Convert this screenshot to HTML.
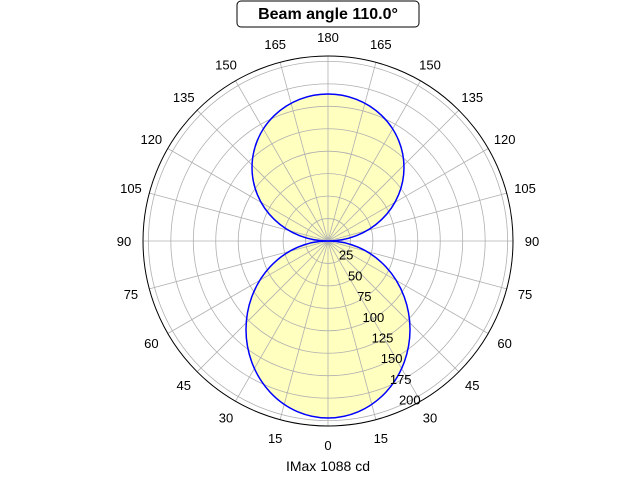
<!DOCTYPE html>
<html><head><meta charset="utf-8"><style>
html,body{margin:0;padding:0;background:#fff;}
svg{display:block;font-family:"Liberation Sans","DejaVu Sans",sans-serif;}
</style></head><body>
<svg id="s" width="640" height="480" viewBox="0 0 640 480" xmlns="http://www.w3.org/2000/svg">
<path d="M328,241 A82,88.5 0 1 0 328,418 A82,88.5 0 1 0 328,241 Z" fill="#ffffc0" stroke="none"/>
<path d="M328,241 A76,73.5 0 1 1 328,94 A76,73.5 0 1 1 328,241 Z" fill="#ffffc0" stroke="none"/>
<g id="grid2"></g>
<path d="M328,241 A82,88.5 0 1 0 328,418 A82,88.5 0 1 0 328,241 Z" fill="none" stroke="#0000ff" stroke-width="1.5"/>
<path d="M328,241 A76,73.5 0 1 1 328,94 A76,73.5 0 1 1 328,241 Z" fill="none" stroke="#0000ff" stroke-width="1.5"/>
<circle cx="328" cy="241" r="185" fill="none" stroke="#000" stroke-width="1"/>
<g id="lab" font-size="13" text-anchor="middle"></g>
<rect x="237" y="1" width="182" height="26" rx="4" fill="#fff" stroke="#000" stroke-width="1"/>
<text x="328" y="19" font-size="16" font-weight="bold" text-anchor="middle">Beam angle 110.0°</text>
<text x="328" y="471" font-size="14" text-anchor="middle">IMax 1088 cd</text>
</svg>
<script>
var ns="http://www.w3.org/2000/svg",cx=328,cy=241,R=185,rmax=206;
var g=document.getElementById("grid2"),lab=document.getElementById("lab");
function el(t,a,p){var e=document.createElementNS(ns,t);for(var k in a)e.setAttribute(k,a[k]);p.appendChild(e);return e;}
for(var v=25;v<=200;v+=25){el("circle",{cx:cx,cy:cy,r:v/rmax*R,fill:"none",stroke:"#b0b0b0","stroke-width":0.8},g);}
for(var a=0;a<360;a+=15){var t=a*Math.PI/180;el("line",{x1:cx,y1:cy,x2:cx+R*Math.sin(t),y2:cy+R*Math.cos(t),stroke:"#b0b0b0","stroke-width":0.8},g);
 var d=a<=180?a:360-a;var x=cx+204*Math.sin(t),y=cy+204*Math.cos(t)+5;var tx=el("text",{x:x,y:y},lab);tx.textContent=d;}
for(var k=1;k<=8;k++){var x=337+9.1*k,y=234+20.7*k+5;var tx=el("text",{x:x,y:y},lab);tx.textContent=25*k;}
</script>
</body></html>
